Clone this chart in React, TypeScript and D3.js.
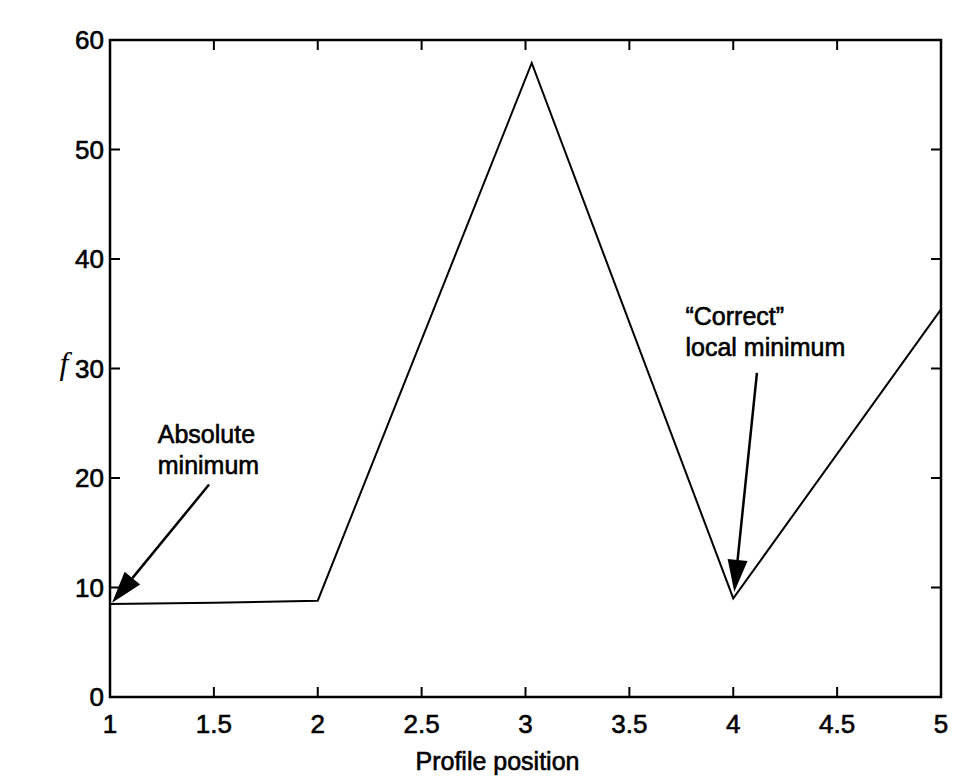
import React, { useEffect, useRef } from 'react';
import * as d3 from 'd3';

// profile position vs f
const positions = [1, 1.5, 2, 3.03, 4, 5];
const fValues = [8.5, 8.6, 8.8, 57.9, 9.0, 35.4];

const xTicks = [1, 1.5, 2, 2.5, 3, 3.5, 4, 4.5, 5];
const yTicks = [0, 10, 20, 30, 40, 50, 60];

// annotations: text lines + arrow from (x0,y0) to (x1,y1) in data units
const notes = [
  { lines: ['Absolute', 'minimum'], tx: 1.23, ty: 23.2, from: [1.477, 19.4], to: [1.01, 8.6] },
  { lines: ['\u201CCorrect\u201D', 'local minimum'], tx: 3.77, ty: 34.0, from: [4.114, 29.6], to: [4.005, 9.6] }
];

export default function App() {
  const svgRef = useRef<SVGSVGElement | null>(null);

  useEffect(() => {
    if (!svgRef.current) return;
    const W = 979;
    const H = 777;
    const margin = { top: 40, right: 38, bottom: 80, left: 110 };
    const width = W - margin.left - margin.right;
    const height = H - margin.top - margin.bottom;

    const svg = d3.select(svgRef.current);
    svg.selectAll('*').remove();
    svg.attr('width', W).attr('height', H);

    svg.append('rect').attr('width', W).attr('height', H).attr('fill', '#ffffff');

    const g = svg.append('g').attr('transform', `translate(${margin.left},${margin.top})`);

    const x = d3.scaleLinear().domain([1, 5]).range([0, width]);
    const y = d3.scaleLinear().domain([0, 60]).range([height, 0]);

    const font = 'Liberation Sans, Arial, Helvetica, sans-serif';
    const tickLen = 10;

    // ticks inside the box on all four sides (matlab style)
    const ticks = g.append('g').attr('stroke', '#000').attr('stroke-width', 2);
    xTicks.forEach(t => {
      ticks.append('line').attr('x1', x(t)).attr('x2', x(t)).attr('y1', height).attr('y2', height - tickLen);
      ticks.append('line').attr('x1', x(t)).attr('x2', x(t)).attr('y1', 0).attr('y2', tickLen);
    });
    yTicks.forEach(t => {
      ticks.append('line').attr('x1', 0).attr('x2', tickLen).attr('y1', y(t)).attr('y2', y(t));
      ticks.append('line').attr('x1', width).attr('x2', width - tickLen).attr('y1', y(t)).attr('y2', y(t));
    });

    g.append('rect')
      .attr('width', width)
      .attr('height', height)
      .attr('fill', 'none')
      .attr('stroke', '#000')
      .attr('stroke-width', 2.5);

    // scanned text looks a bit heavier than plain Arial
    const thick = (sel: any) => sel.attr('stroke', '#000').attr('stroke-width', 0.6);

    // tick labels
    g.append('g')
      .selectAll('text')
      .data(xTicks)
      .join('text')
      .attr('x', d => x(d))
      .attr('y', height + 36)
      .attr('text-anchor', 'middle')
      .attr('font-family', font)
      .attr('font-size', 26)
      .call(thick)
      .text(d => String(d));

    g.append('g')
      .selectAll('text')
      .data(yTicks)
      .join('text')
      .attr('x', -6)
      .attr('y', d => y(d) + 9)
      .attr('text-anchor', 'end')
      .attr('font-family', font)
      .attr('font-size', 26)
      .call(thick)
      .text(d => String(d));

    // axis titles
    svg.append('text')
      .attr('x', margin.left + width * 0.5 - 28)
      .attr('y', 770)
      .attr('text-anchor', 'middle')
      .attr('font-family', font)
      .attr('font-size', 25)
      .call(thick)
      .text('Profile position');

    svg.append('text')
      .attr('x', 64)
      .attr('y', 374)
      .attr('text-anchor', 'middle')
      .attr('font-family', 'Liberation Serif, Times New Roman, serif')
      .attr('font-style', 'italic')
      .attr('font-size', 32)
      .text('f');

    // the profile curve
    const line = d3.line<number>()
      .x((d, i) => x(positions[i]))
      .y(d => y(d));

    g.append('path')
      .datum(fValues)
      .attr('fill', 'none')
      .attr('stroke', '#000')
      .attr('stroke-width', 2)
      .attr('stroke-linejoin', 'miter')
      .attr('d', line);

    // annotations with arrows
    notes.forEach(n => {
      const txt = g.append('text')
        .attr('font-family', font)
        .attr('font-size', 25)
        .attr('x', x(n.tx))
        .attr('y', y(n.ty))
        .call(thick);
      n.lines.forEach((l, i) => {
        txt.append('tspan').attr('x', x(n.tx)).attr('dy', i === 0 ? 0 : 31).text(l);
      });

      const x0 = x(n.from[0]), y0 = y(n.from[1]);
      const x1 = x(n.to[0]), y1 = y(n.to[1]);
      const ang = Math.atan2(y1 - y0, x1 - x0);
      const headLen = 32;
      const headHalf = 10;
      const bx = x1 - headLen * Math.cos(ang);
      const by = y1 - headLen * Math.sin(ang);

      g.append('line')
        .attr('x1', x0).attr('y1', y0)
        .attr('x2', bx).attr('y2', by)
        .attr('stroke', '#000')
        .attr('stroke-width', 2.5);

      const px = -Math.sin(ang), py = Math.cos(ang);
      g.append('path')
        .attr('d', `M${x1},${y1}L${bx + px * headHalf},${by + py * headHalf}L${bx - px * headHalf},${by - py * headHalf}Z`)
        .attr('fill', '#000');
    });
  }, []);

  return <svg ref={svgRef} style={{ position: 'absolute', left: 0, top: 0, display: 'block' }} />;
}
